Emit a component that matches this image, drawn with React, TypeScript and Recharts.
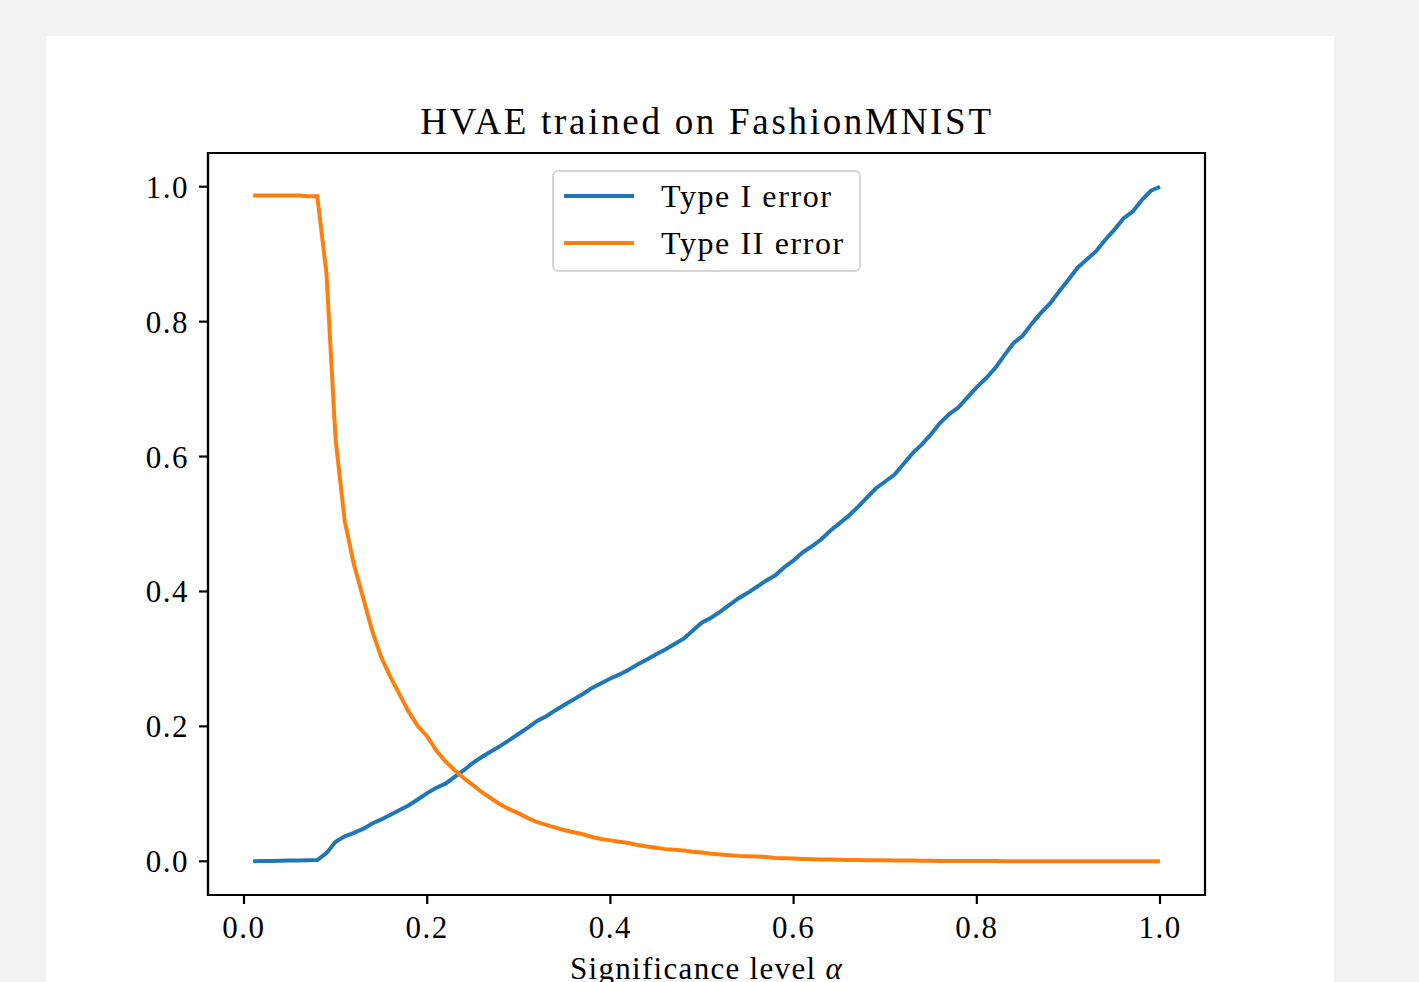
import React from "react";
import { LineChart, Line, XAxis, YAxis, ReferenceArea, Legend } from "recharts";

const alphas: number[] = [
  0.01, 0.02, 0.03, 0.04, 0.05, 0.06, 0.07, 0.08, 0.09, 0.10,
  0.11, 0.12, 0.13, 0.14, 0.15, 0.16, 0.17, 0.18, 0.19, 0.20,
  0.21, 0.22, 0.23, 0.24, 0.25, 0.26, 0.27, 0.28, 0.29, 0.30,
  0.31, 0.32, 0.33, 0.34, 0.35, 0.36, 0.37, 0.38, 0.39, 0.40,
  0.41, 0.42, 0.43, 0.44, 0.45, 0.46, 0.47, 0.48, 0.49, 0.50,
  0.51, 0.52, 0.53, 0.54, 0.55, 0.56, 0.57, 0.58, 0.59, 0.60,
  0.61, 0.62, 0.63, 0.64, 0.65, 0.66, 0.67, 0.68, 0.69, 0.70,
  0.71, 0.72, 0.73, 0.74, 0.75, 0.76, 0.77, 0.78, 0.79, 0.80,
  0.81, 0.82, 0.83, 0.84, 0.85, 0.86, 0.87, 0.88, 0.89, 0.90,
  0.91, 0.92, 0.93, 0.94, 0.95, 0.96, 0.97, 0.98, 0.99, 1.00,
];

const typeI: number[] = [
  0.0, 0.0003, 0.0005, 0.0008, 0.001, 0.0012, 0.0015, 0.0018, 0.012, 0.029,
  0.037, 0.042, 0.048, 0.056, 0.062, 0.069, 0.076, 0.083, 0.092, 0.101,
  0.109, 0.115, 0.125, 0.135, 0.146, 0.155, 0.163, 0.171, 0.18, 0.189,
  0.198, 0.208, 0.215, 0.224, 0.232, 0.24, 0.248, 0.257, 0.264, 0.271,
  0.277, 0.284, 0.292, 0.299, 0.307, 0.314, 0.322, 0.330, 0.342, 0.354,
  0.361, 0.370, 0.380, 0.390, 0.398, 0.407, 0.416, 0.424, 0.436, 0.446,
  0.458, 0.467, 0.477, 0.490, 0.501, 0.512, 0.525, 0.539, 0.553, 0.563,
  0.573, 0.589, 0.605, 0.618, 0.633, 0.650, 0.663, 0.673, 0.688, 0.703,
  0.716, 0.731, 0.750, 0.768, 0.779, 0.797, 0.813, 0.827, 0.845, 0.862,
  0.880, 0.892, 0.904, 0.921, 0.936, 0.953, 0.963, 0.980, 0.994, 1.0,
];

const typeII: number[] = [
  0.987, 0.987, 0.987, 0.987, 0.987, 0.987, 0.986, 0.986, 0.872, 0.625,
  0.504, 0.44, 0.391, 0.341, 0.302, 0.273, 0.247, 0.221, 0.2, 0.185,
  0.164, 0.148, 0.135, 0.123, 0.113, 0.102, 0.093, 0.084, 0.077, 0.071,
  0.064, 0.058, 0.054, 0.05, 0.046, 0.043, 0.04, 0.036, 0.033, 0.031,
  0.029, 0.027, 0.024, 0.022, 0.02, 0.018, 0.017, 0.016, 0.014, 0.013,
  0.011, 0.01, 0.009, 0.008, 0.0075, 0.007, 0.0065, 0.005, 0.0045, 0.004,
  0.0035, 0.003, 0.0027, 0.0025, 0.0022, 0.002, 0.0018, 0.0016, 0.0015, 0.0014,
  0.0012, 0.0011, 0.001, 0.0008, 0.0006, 0.0005, 0.0005, 0.0004, 0.0004, 0.0003,
  0.0003, 0.0003, 0.0002, 0.0002, 0.0002, 0.0002, 0.0001, 0.0001, 0.0001, 0.0001,
  0.0001, 0.0001, 0.0, 0.0, 0.0, 0.0, 0.0, 0.0, 0.0, 0.0,
];

const xTicks: number[] = [0, 0.2, 0.4, 0.6, 0.8, 1.0];
const yTicks: number[] = [0, 0.2, 0.4, 0.6, 0.8, 1.0];
const seriesNames: string[] = ["Type I error", "Type II error"];
const titleText = "HVAE trained on FashionMNIST";

const data = alphas.map((a, i) => ({ a, t1: typeI[i], t2: typeII[i] }));

const FONT = "'Liberation Serif', 'DejaVu Serif', serif";
const BLUE = "#1f77b4";
const ORANGE = "#ff7f0e";
const X_DOMAIN: [number, number] = [-0.0393, 1.0491];
const Y_DOMAIN: [number, number] = [-0.05, 1.05];

const LegendBox = () => (
  <div
    style={{
      position: "absolute",
      left: 552,
      top: 170,
      width: 305,
      height: 98,
      border: "2px solid #d6d6d6",
      borderRadius: 6,
      background: "rgba(255,255,255,0.8)",
      fontFamily: FONT,
      fontSize: 32,
      letterSpacing: 1.6,
      color: "#000",
    }}
  >
    {seriesNames.map((n, i) => (
      <div
        key={n}
        style={{ position: "absolute", left: 10, top: 6 + i * 47, height: 36, display: "flex", alignItems: "center" }}
      >
        <div style={{ width: 70, height: 4, background: i === 0 ? BLUE : ORANGE }} />
        <span style={{ marginLeft: 27, whiteSpace: "nowrap", lineHeight: "36px" }}>{n}</span>
      </div>
    ))}
  </div>
);

const XLabel = (props: any) => {
  const vb = props.viewBox || {};
  const cx = (vb.x || 0) + (vb.width || 0) / 2;
  return (
    <text x={cx} y={979} textAnchor="middle" fontFamily={FONT} fontSize={31} letterSpacing={1.3} fill="#000">
      Significance level <tspan fontStyle="italic">α</tspan>
    </text>
  );
};

const tickStyle = { fontFamily: FONT, fontSize: 31, fill: "#000", letterSpacing: 1.5 };

export default function App() {
  return (
    <div style={{ position: "absolute", left: 0, top: 0, width: 1419, height: 982, background: "#f2f2f2", overflow: "hidden" }}>
      <div style={{ position: "absolute", left: 46, top: 36, width: 1288, height: 980, background: "#fff" }} />
      <div
        style={{
          position: "absolute",
          left: 0,
          width: 1414,
          top: 101,
          textAlign: "center",
          fontFamily: FONT,
          fontSize: 37,
          letterSpacing: 2.7,
          lineHeight: "42px",
          color: "#000",
        }}
      >
        {titleText}
      </div>
      <div style={{ position: "absolute", left: 0, top: 0 }}>
        <LineChart
          width={1419}
          height={982}
          data={data}
          margin={{ top: 153, right: 214, bottom: 0, left: 0 }}
        >
          <XAxis
            dataKey="a"
            type="number"
            domain={X_DOMAIN}
            ticks={xTicks}
            allowDataOverflow
            height={87}
            tickSize={9}
            tickMargin={12}
            tickFormatter={(v: number) => v.toFixed(1)}
            tick={tickStyle}
            axisLine={{ stroke: "#000", strokeWidth: 2.2 }}
            tickLine={{ stroke: "#000", strokeWidth: 2.2 }}
            label={<XLabel />}
          />
          <YAxis
            type="number"
            domain={Y_DOMAIN}
            ticks={yTicks}
            allowDataOverflow
            width={208}
            tickSize={9}
            tickMargin={10}
            tickFormatter={(v: number) => v.toFixed(1)}
            tick={tickStyle}
            axisLine={{ stroke: "#000", strokeWidth: 2.2 }}
            tickLine={{ stroke: "#000", strokeWidth: 2.2 }}
          />
          <ReferenceArea
            x1={X_DOMAIN[0]}
            x2={X_DOMAIN[1]}
            y1={Y_DOMAIN[0]}
            y2={Y_DOMAIN[1]}
            fill="none"
            stroke="#000"
            strokeWidth={2.2}
            ifOverflow="visible"
          />
          <Line dataKey="t1" name={seriesNames[0]} stroke={BLUE} strokeWidth={4} dot={false} isAnimationActive={false} />
          <Line dataKey="t2" name={seriesNames[1]} stroke={ORANGE} strokeWidth={4} dot={false} isAnimationActive={false} />
          <Legend content={() => null} />
        </LineChart>
      </div>
      <LegendBox />
    </div>
  );
}
